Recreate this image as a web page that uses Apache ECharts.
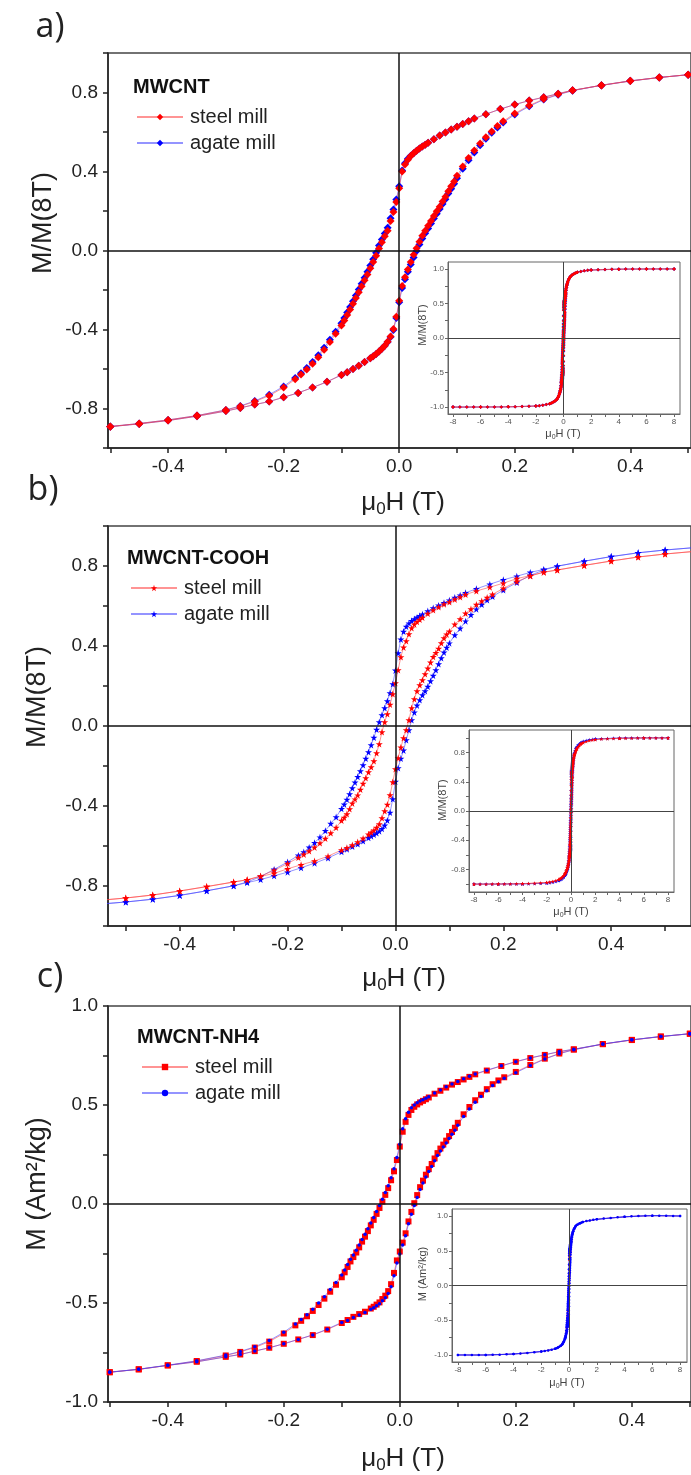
<!DOCTYPE html>
<html><head><meta charset="utf-8">
<script src="https://cdn.jsdelivr.net/npm/echarts@6/dist/echarts.min.js"></script>
<style>html,body{margin:0;padding:0;background:#fff}#c{width:691px;height:1475px}</style>
</head><body><div id="c"></div>
<script>
// ---------- field grids (T): descending branch 8 -> -8, ascending branch -8 -> 8 ----------
const FIELD_DOWN = [
  8, 7.5, 7, 6.5, 6, 5.5, 5, 4.5, 4, 3.5, 3, 2.5, 2,
  1.75, 1.5, 1.25, 1, 0.9, 0.8, 0.7, 0.6, 0.5,
  0.45, 0.4, 0.35, 0.3, 0.275, 0.25, 0.225, 0.2, 0.175, 0.15,
  0.13, 0.12, 0.11, 0.1, 0.09, 0.08, 0.07, 0.06, 0.05,
  0.045, 0.04, 0.035, 0.03, 0.025, 0.02, 0.015, 0.01, 0.005, 0,
  -0.005, -0.01, -0.015, -0.02, -0.025, -0.03, -0.035, -0.04, -0.045, -0.05,
  -0.055, -0.06, -0.065, -0.07, -0.075, -0.08, -0.085, -0.09, -0.095, -0.1,
  -0.11, -0.12, -0.13, -0.14, -0.15, -0.16, -0.17, -0.18,
  -0.2, -0.225, -0.25, -0.275, -0.3, -0.35, -0.4, -0.45, -0.5,
  -0.6, -0.7, -0.8, -0.9, -1, -1.25, -1.5, -1.75,
  -2, -2.5, -3, -3.5, -4, -4.5, -5, -5.5, -6, -6.5, -7, -7.5, -8
];
const FIELD_UP = [
  -8, -6, -4, -2, -1, -0.8, -0.6,
  -0.5, -0.45, -0.4, -0.35, -0.3, -0.275, -0.25, -0.225, -0.2, -0.175, -0.15, -0.125, -0.1,
  -0.09, -0.08, -0.07, -0.06, -0.05,
  -0.045, -0.04, -0.035, -0.03, -0.025, -0.02, -0.015, -0.01, -0.005, 0,
  0.005, 0.01, 0.015, 0.02, 0.025, 0.03, 0.035, 0.04, 0.045, 0.05,
  0.055, 0.06, 0.065, 0.07, 0.075, 0.08, 0.085, 0.09, 0.095, 0.1,
  0.11, 0.12, 0.13, 0.14, 0.15, 0.16, 0.17, 0.18,
  0.2, 0.225, 0.25, 0.275, 0.3, 0.35, 0.4, 0.45, 0.5,
  0.6, 0.8, 1, 2, 4, 6, 8
];

// ---------- a) MWCNT, M/M(8T) ----------
const A_STEEL_DOWN = [
  1.000, 1.000, 1.000, 0.999, 0.999, 0.998, 0.998, 0.997, 0.996, 0.994, 0.992, 0.989, 0.983,
  0.979, 0.973, 0.964, 0.951, 0.943, 0.934, 0.923, 0.909, 0.890,
  0.876, 0.858, 0.836, 0.811, 0.794, 0.776, 0.759, 0.739, 0.716, 0.690,
  0.668, 0.654, 0.641, 0.627, 0.613, 0.598, 0.582, 0.563, 0.545,
  0.536, 0.527, 0.517, 0.505, 0.492, 0.478, 0.460, 0.436, 0.400, 0.315,
  0.245, 0.195, 0.150, 0.100, 0.072, 0.042, 0.010, -0.026, -0.058, -0.090,
  -0.121, -0.151, -0.181, -0.211, -0.241, -0.270, -0.299, -0.327, -0.355, -0.380,
  -0.422, -0.463, -0.502, -0.540, -0.573, -0.603, -0.628, -0.652,
  -0.694, -0.735, -0.765, -0.789, -0.808, -0.836, -0.858, -0.876, -0.891,
  -0.909, -0.923, -0.934, -0.943, -0.951, -0.964, -0.973, -0.979,
  -0.984, -0.989, -0.992, -0.994, -0.996, -0.997, -0.998, -0.998, -0.999, -0.999, -1.000, -1.000, -1.000
];
const A_STEEL_UP = [
  -1.000, -0.999, -0.996, -0.984, -0.951, -0.934, -0.909,
  -0.892, -0.878, -0.861, -0.839, -0.813, -0.797, -0.780, -0.765, -0.743, -0.721, -0.694, -0.665, -0.630,
  -0.616, -0.600, -0.583, -0.564, -0.545,
  -0.535, -0.524, -0.512, -0.498, -0.482, -0.462, -0.435, -0.398, -0.335, -0.255,
  -0.180, -0.135, -0.096, -0.058, -0.022, 0.012, 0.044, 0.075, 0.100, 0.125,
  0.150, 0.175, 0.199, 0.222, 0.248, 0.272, 0.300, 0.325, 0.350, 0.378,
  0.425, 0.468, 0.506, 0.542, 0.574, 0.603, 0.630, 0.654,
  0.694, 0.734, 0.767, 0.791, 0.810, 0.837, 0.859, 0.876, 0.890,
  0.909, 0.934, 0.951, 0.983, 0.996, 0.999, 1.000
];
const A_AGATE_DOWN = [
  1.000, 1.000, 1.000, 0.999, 0.999, 0.998, 0.998, 0.997, 0.996, 0.994, 0.992, 0.989, 0.983,
  0.979, 0.973, 0.964, 0.951, 0.943, 0.934, 0.923, 0.909, 0.890,
  0.876, 0.858, 0.836, 0.811, 0.794, 0.776, 0.759, 0.739, 0.716, 0.690,
  0.668, 0.654, 0.641, 0.627, 0.613, 0.598, 0.582, 0.563, 0.545,
  0.536, 0.527, 0.517, 0.505, 0.493, 0.480, 0.464, 0.442, 0.405, 0.325,
  0.258, 0.208, 0.163, 0.115, 0.086, 0.056, 0.025, -0.012, -0.044, -0.076,
  -0.107, -0.138, -0.168, -0.198, -0.228, -0.257, -0.286, -0.314, -0.342, -0.368,
  -0.411, -0.452, -0.492, -0.530, -0.564, -0.595, -0.621, -0.645,
  -0.688, -0.730, -0.762, -0.787, -0.807, -0.836, -0.858, -0.876, -0.891,
  -0.909, -0.923, -0.934, -0.943, -0.951, -0.964, -0.973, -0.979,
  -0.984, -0.989, -0.992, -0.994, -0.996, -0.997, -0.998, -0.998, -0.999, -0.999, -1.000, -1.000, -1.000
];
const A_AGATE_UP = [
  -1.000, -0.999, -0.996, -0.984, -0.951, -0.934, -0.909,
  -0.892, -0.878, -0.861, -0.839, -0.813, -0.797, -0.780, -0.765, -0.743, -0.721, -0.694, -0.665, -0.630,
  -0.616, -0.600, -0.583, -0.564, -0.545,
  -0.535, -0.524, -0.512, -0.498, -0.482, -0.463, -0.438, -0.403, -0.342, -0.262,
  -0.190, -0.146, -0.108, -0.071, -0.036, -0.002, 0.030, 0.061, 0.087, 0.112,
  0.137, 0.162, 0.186, 0.210, 0.236, 0.260, 0.288, 0.313, 0.338, 0.366,
  0.414, 0.457, 0.496, 0.533, 0.566, 0.596, 0.623, 0.648,
  0.689, 0.730, 0.764, 0.789, 0.809, 0.837, 0.859, 0.876, 0.890,
  0.909, 0.934, 0.951, 0.983, 0.996, 0.999, 1.000
];

// ---------- b) MWCNT-COOH, M/M(8T) ----------
const B_STEEL_DOWN = [
  1.000, 1.000, 1.000, 0.999, 0.999, 0.998, 0.997, 0.996, 0.994, 0.992, 0.989, 0.985, 0.978,
  0.972, 0.964, 0.952, 0.937, 0.927, 0.916, 0.902, 0.884, 0.860,
  0.845, 0.825, 0.803, 0.780, 0.769, 0.752, 0.737, 0.714, 0.694, 0.675,
  0.657, 0.645, 0.633, 0.620, 0.609, 0.595, 0.580, 0.562, 0.542,
  0.532, 0.521, 0.508, 0.490, 0.460, 0.425, 0.393, 0.345, 0.280, 0.215,
  0.160, 0.107, 0.060, 0.020, -0.030, -0.090, -0.135, -0.175, -0.205, -0.230,
  -0.260, -0.288, -0.318, -0.346, -0.366, -0.387, -0.415, -0.440, -0.458, -0.473,
  -0.508, -0.535, -0.563, -0.585, -0.607, -0.625, -0.642, -0.658,
  -0.688, -0.722, -0.750, -0.769, -0.780, -0.803, -0.825, -0.845, -0.860,
  -0.884, -0.902, -0.916, -0.927, -0.937, -0.952, -0.964, -0.972,
  -0.978, -0.985, -0.989, -0.992, -0.994, -0.996, -0.997, -0.998, -0.999, -0.999, -1.000, -1.000, -1.000
];
const B_STEEL_UP = [
  -1.000, -0.999, -0.994, -0.978, -0.937, -0.916, -0.884,
  -0.860, -0.845, -0.825, -0.803, -0.780, -0.769, -0.752, -0.737, -0.714, -0.694, -0.675, -0.651, -0.620,
  -0.609, -0.595, -0.580, -0.562, -0.542,
  -0.532, -0.521, -0.508, -0.490, -0.460, -0.425, -0.393, -0.345, -0.280, -0.215,
  -0.160, -0.107, -0.060, -0.020, 0.030, 0.090, 0.135, 0.175, 0.205, 0.230,
  0.260, 0.288, 0.318, 0.346, 0.366, 0.387, 0.415, 0.440, 0.458, 0.473,
  0.508, 0.535, 0.563, 0.585, 0.607, 0.625, 0.642, 0.658,
  0.688, 0.722, 0.750, 0.769, 0.780, 0.803, 0.825, 0.845, 0.860,
  0.884, 0.916, 0.937, 0.978, 0.994, 0.999, 1.000
];
const B_AGATE_DOWN = [
  1.000, 1.000, 1.000, 1.000, 1.000, 0.999, 0.999, 0.998, 0.997, 0.995, 0.993, 0.990, 0.985,
  0.980, 0.974, 0.964, 0.951, 0.942, 0.931, 0.918, 0.902, 0.880,
  0.866, 0.847, 0.824, 0.799, 0.783, 0.768, 0.749, 0.731, 0.709, 0.686,
  0.666, 0.654, 0.642, 0.629, 0.616, 0.603, 0.590, 0.575, 0.559,
  0.551, 0.543, 0.535, 0.526, 0.514, 0.497, 0.472, 0.433, 0.365, 0.278,
  0.210, 0.165, 0.125, 0.090, 0.055, 0.020, -0.018, -0.058, -0.095, -0.130,
  -0.163, -0.195, -0.225, -0.254, -0.282, -0.310, -0.340, -0.368, -0.392, -0.414,
  -0.455, -0.488, -0.524, -0.556, -0.584, -0.607, -0.630, -0.647,
  -0.680, -0.717, -0.753, -0.780, -0.799, -0.824, -0.847, -0.866, -0.880,
  -0.902, -0.918, -0.931, -0.942, -0.951, -0.964, -0.974, -0.980,
  -0.985, -0.990, -0.993, -0.995, -0.997, -0.998, -0.999, -0.999, -1.000, -1.000, -1.000, -1.000, -1.000
];
const B_AGATE_UP = [
  -1.000, -1.000, -0.997, -0.985, -0.951, -0.931, -0.902,
  -0.880, -0.866, -0.847, -0.824, -0.799, -0.783, -0.768, -0.749, -0.731, -0.709, -0.686, -0.660, -0.629,
  -0.616, -0.603, -0.590, -0.575, -0.559,
  -0.551, -0.543, -0.535, -0.526, -0.514, -0.497, -0.472, -0.433, -0.365, -0.278,
  -0.210, -0.163, -0.122, -0.070, -0.020, 0.030, 0.068, 0.103, 0.130, 0.155,
  0.175, 0.197, 0.225, 0.252, 0.280, 0.310, 0.340, 0.368, 0.392, 0.414,
  0.455, 0.488, 0.524, 0.556, 0.584, 0.607, 0.630, 0.647,
  0.680, 0.717, 0.753, 0.780, 0.799, 0.824, 0.847, 0.866, 0.880,
  0.902, 0.931, 0.951, 0.985, 0.997, 1.000, 1.000
];

// ---------- c) MWCNT-NH4, M (Am2/kg) ----------
const C_STEEL_DOWN = [
  1.000, 1.002, 1.004, 1.005, 1.005, 1.004, 1.001, 0.995, 0.988, 0.981, 0.973, 0.964, 0.952,
  0.945, 0.937, 0.927, 0.914, 0.906, 0.897, 0.887, 0.875, 0.860,
  0.845, 0.828, 0.807, 0.781, 0.769, 0.753, 0.737, 0.718, 0.697, 0.674,
  0.655, 0.642, 0.629, 0.616, 0.603, 0.588, 0.572, 0.557, 0.538,
  0.529, 0.521, 0.513, 0.503, 0.491, 0.475, 0.450, 0.415, 0.365, 0.290,
  0.222, 0.165, 0.120, 0.080, 0.046, 0.012, -0.020, -0.050, -0.080, -0.108,
  -0.137, -0.165, -0.190, -0.219, -0.245, -0.268, -0.290, -0.318, -0.345, -0.370,
  -0.408, -0.443, -0.478, -0.510, -0.540, -0.567, -0.590, -0.613,
  -0.654, -0.695, -0.725, -0.747, -0.765, -0.793, -0.815, -0.835, -0.850,
  -0.868, -0.881, -0.892, -0.902, -0.910, -0.924, -0.935, -0.943,
  -0.950, -0.962, -0.972, -0.980, -0.986, -0.991, -0.995, -0.998, -1.000, -1.001, -1.001, -1.000, -1.000
];
const C_STEEL_UP = [
  -1.000, -1.000, -0.986, -0.950, -0.910, -0.892, -0.868,
  -0.849, -0.835, -0.815, -0.797, -0.772, -0.760, -0.743, -0.726, -0.706, -0.684, -0.662, -0.634, -0.601,
  -0.586, -0.570, -0.556, -0.544, -0.528,
  -0.519, -0.508, -0.497, -0.480, -0.463, -0.440, -0.405, -0.348, -0.285, -0.240,
  -0.195, -0.148, -0.088, -0.040, 0.004, 0.045, 0.085, 0.118, 0.148, 0.176,
  0.202, 0.230, 0.257, 0.280, 0.300, 0.320, 0.343, 0.364, 0.385, 0.410,
  0.453, 0.490, 0.524, 0.552, 0.580, 0.605, 0.624, 0.640,
  0.667, 0.702, 0.734, 0.760, 0.780, 0.808, 0.829, 0.846, 0.860,
  0.875, 0.897, 0.914, 0.952, 0.988, 1.005, 1.000
];
const C_AGATE_DOWN = [
  1.000, 1.002, 1.004, 1.005, 1.005, 1.004, 1.001, 0.995, 0.988, 0.981, 0.973, 0.964, 0.952,
  0.945, 0.937, 0.927, 0.914, 0.906, 0.897, 0.887, 0.875, 0.860,
  0.846, 0.829, 0.808, 0.782, 0.770, 0.754, 0.738, 0.719, 0.698, 0.676,
  0.657, 0.645, 0.632, 0.619, 0.606, 0.592, 0.576, 0.561, 0.542,
  0.534, 0.527, 0.520, 0.511, 0.500, 0.486, 0.463, 0.430, 0.380, 0.302,
  0.235, 0.178, 0.132, 0.092, 0.058, 0.024, -0.008, -0.038, -0.068, -0.096,
  -0.125, -0.153, -0.179, -0.207, -0.233, -0.257, -0.279, -0.306, -0.333, -0.358,
  -0.397, -0.432, -0.468, -0.500, -0.531, -0.559, -0.583, -0.606,
  -0.648, -0.690, -0.721, -0.745, -0.763, -0.792, -0.814, -0.834, -0.850,
  -0.868, -0.881, -0.892, -0.902, -0.910, -0.924, -0.935, -0.943,
  -0.950, -0.962, -0.972, -0.980, -0.986, -0.991, -0.995, -0.998, -1.000, -1.001, -1.001, -1.000, -1.000
];
const C_AGATE_UP = [
  -1.000, -1.000, -0.986, -0.950, -0.910, -0.892, -0.868,
  -0.849, -0.835, -0.815, -0.797, -0.772, -0.760, -0.743, -0.726, -0.706, -0.684, -0.661, -0.632, -0.598,
  -0.588, -0.573, -0.560, -0.548, -0.532,
  -0.524, -0.514, -0.504, -0.489, -0.473, -0.452, -0.418, -0.362, -0.298, -0.252,
  -0.207, -0.160, -0.100, -0.052, -0.008, 0.033, 0.073, 0.106, 0.136, 0.164,
  0.190, 0.218, 0.245, 0.268, 0.288, 0.308, 0.331, 0.352, 0.373, 0.398,
  0.442, 0.480, 0.514, 0.543, 0.572, 0.598, 0.618, 0.635,
  0.663, 0.699, 0.732, 0.759, 0.779, 0.808, 0.829, 0.846, 0.860,
  0.875, 0.897, 0.914, 0.952, 0.988, 1.005, 1.000
];

// ---------- ticks / labels ----------
const MAIN_X_TICKS = [-0.5, -0.4, -0.3, -0.2, -0.1, 0, 0.1, 0.2, 0.3, 0.4, 0.5];
const MAIN_X_LABELS = [-0.4, -0.2, 0, 0.2, 0.4];
const AB_Y_TICKS = [-1, -0.8, -0.6, -0.4, -0.2, 0, 0.2, 0.4, 0.6, 0.8, 1];
const AB_Y_LABELS = [-0.8, -0.4, 0, 0.4, 0.8];
const C_Y_TICKS = [-1, -0.75, -0.5, -0.25, 0, 0.25, 0.5, 0.75, 1];
const C_Y_LABELS = [-1, -0.5, 0, 0.5, 1];
const INSET_X_TICKS = [-8, -7, -6, -5, -4, -3, -2, -1, 0, 1, 2, 3, 4, 5, 6, 7, 8];
const INSET_X_LABELS = [-8, -6, -4, -2, 0, 2, 4, 6, 8];
const INSET_Y_TICKS_AC = [-1, -0.75, -0.5, -0.25, 0, 0.25, 0.5, 0.75, 1];
const INSET_Y_LABELS_AC = [-1, -0.5, 0, 0.5, 1];
const INSET_Y_TICKS_B = [-1, -0.8, -0.6, -0.4, -0.2, 0, 0.2, 0.4, 0.6, 0.8, 1];
const INSET_Y_LABELS_B = [-0.8, -0.4, 0, 0.4, 0.8];

// ---------- build ----------
const FONT = 'Liberation Sans';
const STAR = 'path://M50,0 L61,35 L98,35 L68,57 L79,91 L50,70 L21,91 L32,57 L2,35 L39,35 Z';
function loop(down, up) {
  return FIELD_DOWN.map((h, i) => [h, down[i]]).concat(FIELD_UP.map((h, i) => [h, up[i]]));
}
const RED = '#ff0000', BLUE = '#0000ff';
const RED_LINE = 'rgba(255,60,60,0.55)', BLUE_LINE = 'rgba(60,60,255,0.55)';

const grids = [
  {left: 108, top: 53, width: 590, height: 395},
  {left: 108, top: 526, width: 600, height: 400},
  {left: 108, top: 1006, width: 590, height: 396},
  {left: 448, top: 262, width: 232, height: 152},
  {left: 469, top: 730, width: 205, height: 162},
  {left: 452, top: 1209, width: 235, height: 153}
].map((g, i) => Object.assign(g, i < 3
  ? {show: true, borderColor: '#444', borderWidth: 1.5, backgroundColor: 'transparent'}
  : {show: true, borderColor: '#666', borderWidth: 1, backgroundColor: '#fff'}));

function mainX(gi, min, max) {
  return {gridIndex: gi, type: 'value', min, max,
    axisLine: {show: true, onZero: false, lineStyle: {color: '#222', width: 1.5}},
    axisTick: {show: true, customValues: MAIN_X_TICKS, length: 5, lineStyle: {color: '#222', width: 1.5}},
    axisLabel: {customValues: MAIN_X_LABELS, formatter: v => v.toFixed(1), fontSize: 19, color: '#222', margin: 9, fontFamily: FONT},
    splitLine: {show: false}};
}
function mainY(gi, ticks, labels) {
  return {gridIndex: gi, type: 'value', min: -1, max: 1,
    axisLine: {show: true, onZero: false, lineStyle: {color: '#222', width: 1.5}},
    axisTick: {show: true, customValues: ticks, length: 5, lineStyle: {color: '#222', width: 1.5}},
    axisLabel: {customValues: labels, formatter: v => v.toFixed(1), fontSize: 19, color: '#222', margin: 10, fontFamily: FONT},
    splitLine: {show: false}};
}
function insetX(gi, min, max) {
  return {gridIndex: gi, type: 'value', min, max,
    axisLine: {show: true, onZero: false, lineStyle: {color: '#666', width: 1}},
    axisTick: {show: true, customValues: INSET_X_TICKS, length: 3, lineStyle: {color: '#666'}},
    axisLabel: {customValues: INSET_X_LABELS, formatter: v => String(v), fontSize: 8, color: '#555', margin: 4, fontFamily: FONT},
    splitLine: {show: false}};
}
function insetY(gi, min, max, ticks, labels) {
  return {gridIndex: gi, type: 'value', min, max,
    axisLine: {show: true, onZero: false, lineStyle: {color: '#666', width: 1}},
    axisTick: {show: true, customValues: ticks, length: 3, lineStyle: {color: '#666'}},
    axisLabel: {customValues: labels, formatter: v => v.toFixed(1), fontSize: 8, color: '#555', margin: 4, fontFamily: FONT},
    splitLine: {show: false}};
}

function zeroLines(color, width) {
  return {silent: true, symbol: ['none', 'none'], label: {show: false}, animation: false,
    lineStyle: {color, width, type: 'solid'}, data: [{xAxis: 0}, {yAxis: 0}]};
}
function ser(name, gi, data, symbol, size, color, lineColor, zl) {
  const s = {name, type: 'line', xAxisIndex: gi, yAxisIndex: gi, data, symbol, symbolSize: size,
    itemStyle: {color}, lineStyle: {color: lineColor, width: 1}, clip: true, animation: false};
  if (zl) s.markLine = zl;
  return s;
}

const series = [
  // a main
  ser('agate mill (a)', 0, loop(A_AGATE_DOWN, A_AGATE_UP), 'diamond', 8, BLUE, BLUE_LINE, zeroLines('#111', 1.5)),
  ser('steel mill (a)', 0, loop(A_STEEL_DOWN, A_STEEL_UP), 'diamond', 8, RED, RED_LINE),
  // b main
  ser('agate mill (b)', 1, loop(B_AGATE_DOWN, B_AGATE_UP), STAR, 7, BLUE, BLUE_LINE, zeroLines('#111', 1.5)),
  ser('steel mill (b)', 1, loop(B_STEEL_DOWN, B_STEEL_UP), STAR, 7, RED, RED_LINE),
  // c main
  ser('steel mill (c)', 2, loop(C_STEEL_DOWN, C_STEEL_UP), 'rect', 6, RED, RED_LINE, zeroLines('#111', 1.5)),
  ser('agate mill (c)', 2, loop(C_AGATE_DOWN, C_AGATE_UP), 'circle', 3.5, BLUE, BLUE_LINE),
  // insets
  ser('inset a agate', 3, loop(A_AGATE_DOWN, A_AGATE_UP), 'diamond', 3.5, BLUE, BLUE_LINE, zeroLines('#444', 1)),
  ser('inset a steel', 3, loop(A_STEEL_DOWN, A_STEEL_UP), 'diamond', 3.5, RED, RED_LINE),
  ser('inset b agate', 4, loop(B_AGATE_DOWN, B_AGATE_UP), STAR, 4, BLUE, BLUE_LINE, zeroLines('#444', 1)),
  ser('inset b steel', 4, loop(B_STEEL_DOWN, B_STEEL_UP), STAR, 4, RED, RED_LINE),
  ser('inset c steel', 5, loop(C_STEEL_DOWN, C_STEEL_UP), 'rect', 1.5, RED, 'rgba(255,60,60,0.3)', zeroLines('#444', 1)),
  ser('inset c agate', 5, loop(C_AGATE_DOWN, C_AGATE_UP), 'circle', 2.5, BLUE, 'rgba(30,30,255,0.8)')
];

function legend(left, top, names) {
  return {left, top, orient: 'vertical', data: names, selectedMode: false,
    itemWidth: 46, itemHeight: 8, itemGap: 0,
    formatter: n => n.slice(0, -4),
    textStyle: {fontSize: 20, color: '#222', fontFamily: FONT, lineHeight: 26, padding: [0, 0, 0, 2]}};
}

function txt(x, y, text, size, opts) {
  return Object.assign({type: 'text', x, y, silent: true,
    style: Object.assign({text, fontSize: size, fontFamily: FONT, fill: '#222', align: 'center', verticalAlign: 'middle'}, (opts && opts.style) || {})},
    (opts && opts.el) || {});
}
function muH(x, y, size, color) {
  return {type: 'text', x, y, silent: true,
    style: {text: '{a|\u03bc}{s|0}{a|H (T)}', align: 'center', verticalAlign: 'middle', fill: color,
      rich: {a: {fontSize: size, fontFamily: FONT, fill: color, lineHeight: Math.round(size * 1.15)},
             s: {fontSize: Math.round(size * 0.65), fontFamily: FONT, fill: color, verticalAlign: 'bottom', lineHeight: Math.round(size * 0.65)}}}};
}
const ROT = {el: {rotation: Math.PI / 2}};

const graphic = [
  txt(50, 27, 'a)', 34, {style: {fontFamily: 'Open Sans'}}),
  txt(43, 490, 'b)', 34, {style: {fontFamily: 'Open Sans'}}),
  txt(50, 977, 'c)', 34, {style: {fontFamily: 'Open Sans'}}),
  txt(133, 87, 'MWCNT', 20, {style: {align: 'left', fontWeight: 'bold', fill: '#111'}}),
  txt(127, 558, 'MWCNT-COOH', 20, {style: {align: 'left', fontWeight: 'bold', fill: '#111'}}),
  txt(137, 1037, 'MWCNT-NH4', 20, {style: {align: 'left', fontWeight: 'bold', fill: '#111'}}),
  txt(44, 223, 'M/M(8T)', 27, ROT),
  txt(38, 697, 'M/M(8T)', 27, ROT),
  txt(38, 1184, 'M (Am\u00b2/kg)', 27, ROT),
  muH(403, 503, 26, '#222'),
  muH(404, 979, 26, '#222'),
  muH(403, 1459, 26, '#222'),
  txt(423, 325, 'M/M(8T)', 11, {style: {fill: '#444'}, el: {rotation: Math.PI / 2}}),
  txt(443, 800, 'M/M(8T)', 11, {style: {fill: '#444'}, el: {rotation: Math.PI / 2}}),
  txt(423, 1274, 'M (Am\u00b2/kg)', 11, {style: {fill: '#444'}, el: {rotation: Math.PI / 2}}),
  muH(563, 434, 11, '#444'),
  muH(571, 912, 11, '#444'),
  muH(567, 1383, 11, '#444')
];

const chart = echarts.init(document.getElementById('c'), null, {renderer: 'canvas'});
chart.setOption({
  animation: false,
  backgroundColor: '#fff',
  grid: grids,
  xAxis: [mainX(0, -0.504, 0.505), mainX(1, -0.533, 0.548), mainX(2, -0.503, 0.502),
          insetX(3, -8.36, 8.43), insetX(4, -8.41, 8.49), insetX(5, -8.43, 8.5)],
  yAxis: [mainY(0, AB_Y_TICKS, AB_Y_LABELS), mainY(1, AB_Y_TICKS, AB_Y_LABELS), mainY(2, C_Y_TICKS, C_Y_LABELS),
          insetY(3, -1.1, 1.1, INSET_Y_TICKS_AC, INSET_Y_LABELS_AC),
          insetY(4, -1.108, 1.108, INSET_Y_TICKS_B, INSET_Y_LABELS_B),
          insetY(5, -1.101, 1.101, INSET_Y_TICKS_AC, INSET_Y_LABELS_AC)],
  legend: [legend(131, 99, ['steel mill (a)', 'agate mill (a)']),
           legend(125, 570, ['steel mill (b)', 'agate mill (b)']),
           legend(136, 1049, ['steel mill (c)', 'agate mill (c)'])],
  series,
  graphic
});
</script>
</body></html>
